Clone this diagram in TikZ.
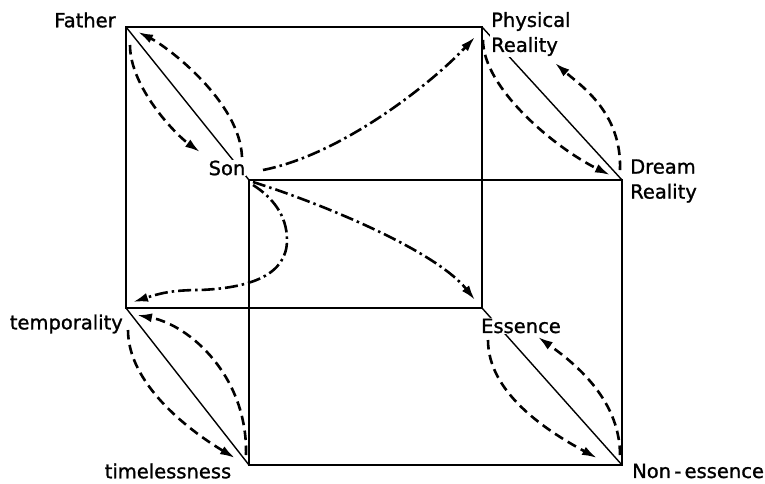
\documentclass[tikz,border=0pt]{standalone}
\usepackage{fontspec}
\setmainfont{DejaVu Sans}
\newfontfamily\lblfont{DejaVu Sans}[FakeBold=1.2]
\usetikzlibrary{arrows.meta}
\begin{document}
\begin{tikzpicture}[x=1pt,y=-1pt,
  lbl/.style={font=\lblfont\fontsize{19.5}{25}\selectfont, inner sep=1pt, fill=white, align=left},
  box/.style={line width=2.1pt},
  diag/.style={line width=1.4pt},
  link/.style={line width=2.6pt, dash pattern=on 9.5pt off 5.5pt, -{Latex[length=15pt,width=9pt]}},
  jump/.style={line width=2.6pt, dash pattern=on 13pt off 4pt on 2.5pt off 4pt, -{Latex[length=15pt,width=9pt]}}]
\useasboundingbox (0,0) rectangle (765,483);
% corners of the two frames
\coordinate (F) at (126,27);
\coordinate (P) at (482,27);
\coordinate (T) at (126,308);
\coordinate (E) at (482,308);
\coordinate (S) at (249,180);
\coordinate (D) at (622,180);
\coordinate (L) at (249,465);
\coordinate (N) at (622,465);
\draw[box] (F) rectangle (E);
\draw[box] (S) rectangle (N);
\draw[diag] (F) -- (S);
\draw[diag] (P) -- (D);
\draw[diag] (T) -- (L);
\draw[diag] (E) -- (N);
% labels
\node[lbl] (father) at (85,20) {Father};
\node[lbl] (son) at (227,168) {Son};
\node[lbl, anchor=west] (phys) at (490,34) {Physical\\Reality};
\node[lbl, anchor=west] (dream) at (629,181) {Dream\\Reality};
\node[lbl, anchor=east] (temp) at (124,324) {temporality};
\node[lbl] (timeless) at (168,471) {timelessness};
\node[lbl] (ess) at (521,326) {Essence};
\node[lbl, anchor=west] (noness) at (631,471) {Non\,-\,essence};
% dashed pairs
\draw[link] ([shift={(4,18)}]F) .. controls +(0,42) and +(-25,-18) .. ([shift={(-49,-28)}]S);
\draw[link] ([shift={(-7,-23)}]S) .. controls +(-2,-55) and +(30,15) .. ([shift={(12,5)}]F);
\draw[link] ([shift={(1,13)}]P) .. controls +(0,48) and +(-55,-27) .. ([shift={(-12,-5)}]D);
\draw[link] ([shift={(-2,-10)}]D) .. controls +(2,-58) and +(25,22) .. ([shift={(73,36)}]P);
\draw[link] ([shift={(2,22)}]T) .. controls +(0,52) and +(-50,-30) .. ([shift={(-14,-7)}]L);
\draw[link] ([shift={(-3,-10)}]L) .. controls +(2,-78) and +(53,10) .. ([shift={(11,7)}]T);
\draw[link] ([shift={(6,32)}]E) .. controls +(0,52) and +(-52,-28) .. ([shift={(-25,-7)}]N);
\draw[link] ([shift={(-2,-10)}]N) .. controls +(0,-58) and +(32,23) .. ([shift={(56,29)}]E);
% dash-dot arrows out of Son
\draw[jump] ([shift={(14,-10)}]S) .. controls +(77,-15) and +(-45,48) .. ([shift={(-7,10)}]P);
\draw[jump] ([shift={(4,2)}]S) .. controls +(67,21) and +(-40,-50) .. ([shift={(-7,-8)}]E);
\draw[jump] ([shift={(4,5)}]S) .. controls +(19,12) and +(0,-25) .. ([shift={(38,60)}]S)
  .. controls +(0,35) and +(50,-2) .. ([shift={(74,-18)}]T)
  .. controls +(-30,0) and +(25,-8) .. ([shift={(7,-6)}]T);
\end{tikzpicture}
\end{document}
